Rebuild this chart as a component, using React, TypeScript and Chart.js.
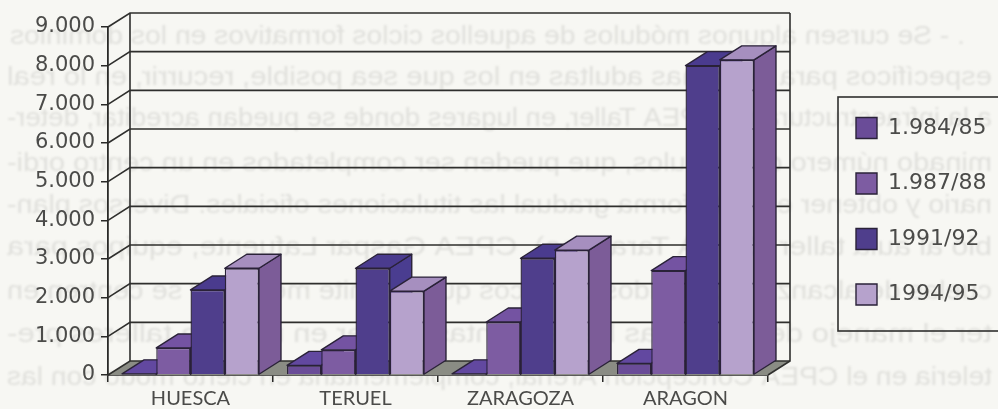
import React, { useEffect, useRef } from "react";
import { Chart, registerables } from "chart.js";

Chart.register(...registerables);

const categories = ["HUESCA", "TERUEL", "ZARAGOZA", "ARAGON"];
const seriesNames = ["1.984/85", "1.987/88", "1991/92", "1994/95"];
const values8485 = [30, 250, 30, 300];
const values8788 = [700, 650, 1370, 2700];
const values9192 = [2200, 2760, 3020, 8000];
const values9495 = [2760, 2170, 3230, 8150];

const backgroundLines = [
  ". - Se cursen algunos módulos de aquellos ciclos formativos en los dominios",
  "específicos para personas adultas en los que sea posible, recurrir, en lo real",
  "a la infraestructura de CPEA Taller, en lugares donde se puedan acreditar, deter-",
  "minado número de módulos, que pueden ser completados en un centro ordi-",
  "nario y obtener en esta forma gradual las titulaciones oficiales. Diversos plan-",
  "bio al aula taller (CPEA Tarazona), CPEA Gaspar Lafuente, equipos para",
  "cuelas de alcanzar contenidos prácticos que permite mejorar y se centren en",
  "ter el manejo de máquinas herramientas, poner en marcha talleres pre-",
  "teleria en el CPEA Concepción Arenal, complementaria en cierto modo con las",
];

const frontColors = ["#6a4c98", "#7d5ca2", "#4f3e8c", "#b6a2cc"];
const topColors = ["#6248a0", "#7453a2", "#4a3b8e", "#a68fbf"];
const sideColors = ["#5f4594", "#6f5096", "#4a3d90", "#7c5c98"];
const edge = "#2a2238";
const textColor = "#4b4b49";
const depthX = 22;
const depthY = -14;

const scene = {
  id: "scene",
  beforeDraw(chart: any) {
    const { ctx, width, height } = chart;
    ctx.save();
    ctx.fillStyle = "#f7f7f3";
    ctx.fillRect(0, 0, width, height);
    ctx.filter = "blur(1.3px)";
    ctx.fillStyle = "#e0e0dc";
    ctx.font = '25px "Liberation Sans"';
    ctx.textBaseline = "alphabetic";
    const ys = [44, 85, 126, 171, 213, 255, 299, 342, 385];
    backgroundLines.forEach((line, i) => {
      const right = i === 0 ? 965 : 992;
      const target = i === 0 ? 955 : 985;
      ctx.save();
      ctx.translate(right, ys[i]);
      ctx.scale(-target / ctx.measureText(line).width, 1);
      ctx.fillText(line, 0, 0);
      ctx.restore();
    });
    ctx.restore();
  },
  afterLayout(chart: any) {
    const l = chart.legend;
    if (!l) return;
    const w = l.width;
    const h = l.height;
    l.left = 822.5;
    l.right = 822.5 + w;
    l.top = 83.5;
    l.bottom = 83.5 + h;
  },
  beforeDatasetsDraw(chart: any) {
    const { ctx, chartArea: a, scales } = chart;
    const yS = scales.y;
    ctx.save();
    // legend frame
    ctx.strokeStyle = "#2f2f2d";
    ctx.lineWidth = 1.6;
    ctx.strokeRect(838, 97, 170, 234);
    // floor
    const y0 = yS.getPixelForValue(0);
    ctx.fillStyle = "#8a8c84";
    ctx.beginPath();
    ctx.moveTo(a.left, y0);
    ctx.lineTo(a.right, y0);
    ctx.lineTo(a.right + depthX, y0 + depthY);
    ctx.lineTo(a.left + depthX, y0 + depthY);
    ctx.closePath();
    ctx.fill();
    // walls
    ctx.strokeStyle = "#2f2f2d";
    ctx.lineWidth = 1.6;
    yS.ticks.forEach((t: any) => {
      const y = yS.getPixelForValue(t.value);
      ctx.beginPath();
      ctx.moveTo(a.left, y);
      ctx.lineTo(a.left + depthX, y + depthY);
      ctx.lineTo(a.right + depthX, y + depthY);
      ctx.stroke();
    });
    ctx.beginPath();
    ctx.moveTo(a.left + depthX, a.top + depthY);
    ctx.lineTo(a.left + depthX, y0 + depthY);
    ctx.moveTo(a.right + depthX, a.top + depthY);
    ctx.lineTo(a.right + depthX, y0 + depthY);
    ctx.lineTo(a.right, y0);
    ctx.stroke();
    // depth faces of each bar, left to right
    ctx.strokeStyle = edge;
    ctx.lineJoin = "round";
    ctx.lineWidth = 1.4;
    categories.forEach((_, j) => {
      chart.data.datasets.forEach((_d: any, i: number) => {
        const bar = chart.getDatasetMeta(i).data[j];
        const l = bar.x - bar.width / 2;
        const r = bar.x + bar.width / 2;
        const t = bar.y;
        const b = bar.base;
        ctx.fillStyle = sideColors[i];
        ctx.beginPath();
        ctx.moveTo(r, t);
        ctx.lineTo(r + depthX, t + depthY);
        ctx.lineTo(r + depthX, b + depthY);
        ctx.lineTo(r, b);
        ctx.closePath();
        ctx.fill();
        ctx.stroke();
        ctx.fillStyle = topColors[i];
        ctx.beginPath();
        ctx.moveTo(l, t);
        ctx.lineTo(l + depthX, t + depthY);
        ctx.lineTo(r + depthX, t + depthY);
        ctx.lineTo(r, t);
        ctx.closePath();
        ctx.fill();
        ctx.stroke();
      });
    });
    ctx.restore();
  },
};

export default function App() {
  const ref = useRef<HTMLCanvasElement>(null);
  useEffect(() => {
    document.body.style.margin = "0";
    const series = [values8485, values8788, values9192, values9495];
    const chart: any = new Chart(ref.current as HTMLCanvasElement, {
      type: "bar",
      data: {
        labels: categories,
        datasets: seriesNames.map((name, i) => ({
          label: name,
          data: series[i],
          backgroundColor: frontColors[i],
          borderColor: edge,
          borderWidth: 1.4,
          categoryPercentage: 0.83,
          barPercentage: 1,
        })),
      },
      options: {
        responsive: false,
        animation: false,
        events: [],
        layout: { padding: { left: 0, top: 27, right: 60, bottom: 0 } },
        plugins: {
          tooltip: { enabled: false },
          title: { display: false },
          legend: {
            display: true,
            position: "right",
            align: "start",
            labels: {
              boxWidth: 21,
              boxHeight: 21,
              padding: 33.5,
              color: textColor,
              font: { family: '"DejaVu Sans"', size: 22, lineHeight: 1.1 },
            },
          },
        },
        scales: {
          x: {
            type: "category",
            offset: true,
            afterFit: (s: any) => {
              s.height = 34;
            },
            border: { color: "#2a2a28", width: 1.8 },
            grid: { offset: true, drawOnChartArea: false, drawTicks: true, tickLength: 7, color: "#2a2a28", lineWidth: 1.5 },
            ticks: {
              color: textColor,
              padding: 5,
              maxRotation: 0,
              font: { family: "Lato", size: 20 },
            },
          },
          y: {
            min: 0,
            max: 9000,
            afterFit: (s: any) => {
              s.width = 108;
            },
            border: { color: "#2a2a28", width: 1.8 },
            grid: { drawOnChartArea: false, drawTicks: true, tickLength: 7, color: "#2a2a28", lineWidth: 1.5 },
            ticks: {
              stepSize: 1000,
              color: textColor,
              padding: 6,
              font: { family: '"DejaVu Sans"', size: 21 },
              callback: (v: any) => (v === 0 ? "0" : `${v / 1000}.000`),
            },
          },
        },
      },
      plugins: [scene],
    });
    chart.options.layout.padding.right = 230 - chart.legend.width;
    chart.update();
    return () => chart.destroy();
  }, []);
  return (
    <div style={{ position: "fixed", left: 0, top: 0, width: 998, height: 409 }}>
      <canvas ref={ref} width={998} height={409} style={{ display: "block" }} />
    </div>
  );
}
